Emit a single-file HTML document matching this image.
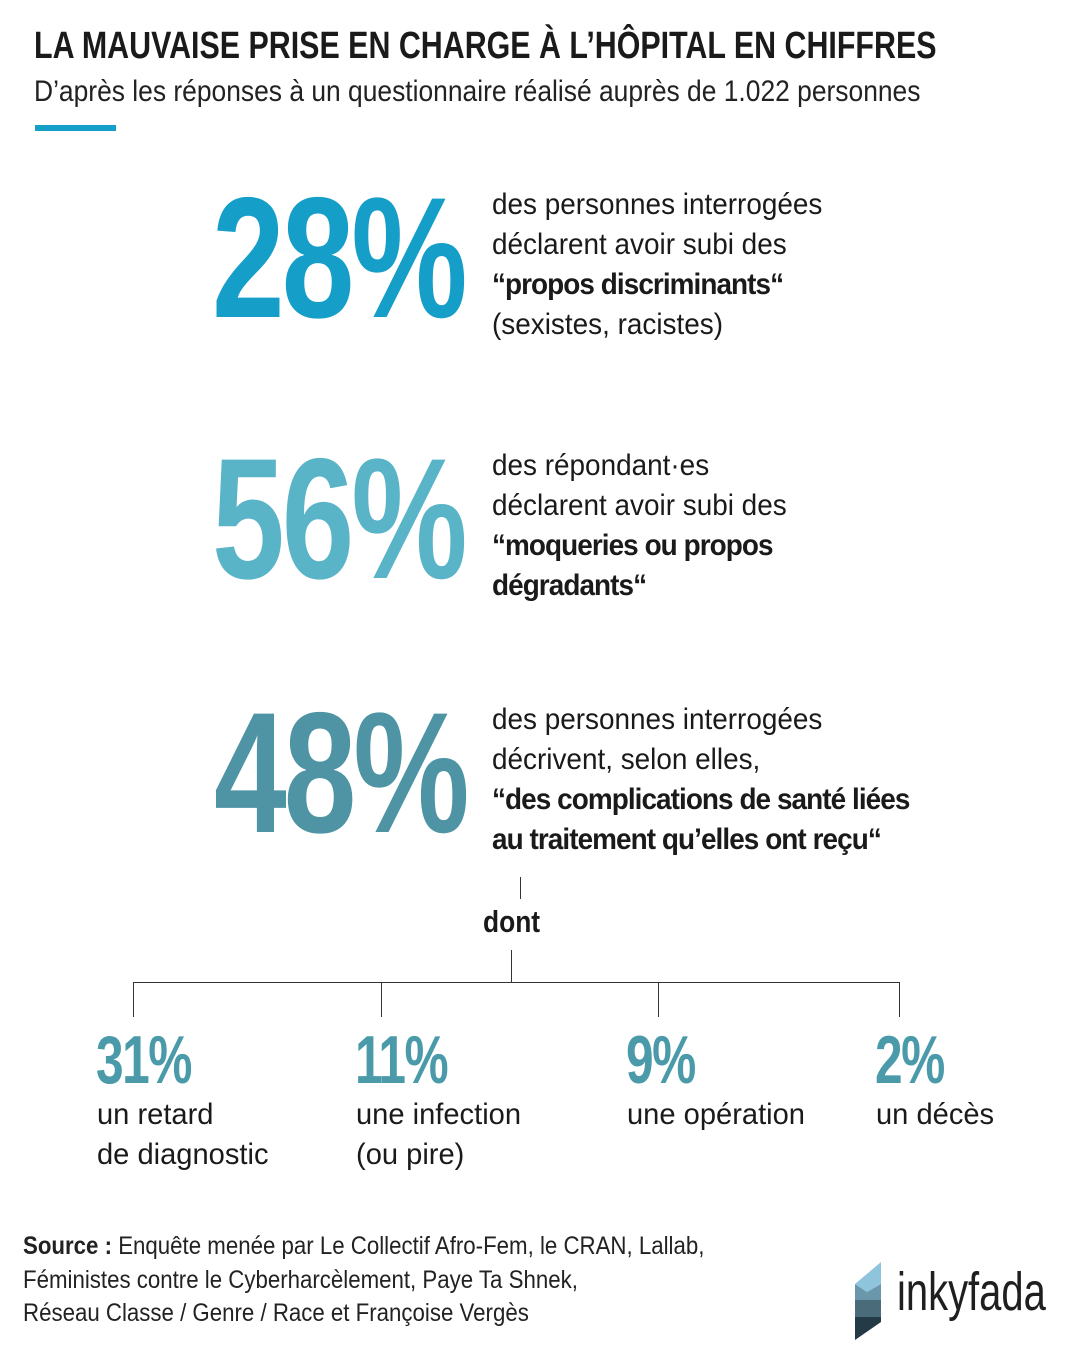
<!DOCTYPE html>
<html><head><meta charset="utf-8"><style>
body{margin:0;width:1080px;height:1360px;background:#fff;position:relative;overflow:hidden;font-family:"Liberation Sans",sans-serif;color:#1a1a1a}
.a{position:absolute;white-space:nowrap;transform-origin:0 0}
.big{font-weight:bold;font-size:172px;line-height:1;letter-spacing:-4px;transform:scaleX(0.76)}
.t{font-size:30px;line-height:40px;transform:scaleX(0.93)}
.b{font-weight:bold;letter-spacing:-1px}
.p{font-weight:bold;font-size:68px;color:#4a9aaa;line-height:1;letter-spacing:-2px;transform:scaleX(0.73)}
.s{font-size:30px;line-height:40px;transform:scaleX(0.97)}
.l{position:absolute;background:#333}
</style></head><body>
<div class="a" style="left:34px;top:24px;font-size:38px;line-height:44px;font-weight:bold;transform:scaleX(0.8)">LA MAUVAISE PRISE EN CHARGE À L’HÔPITAL EN CHIFFRES</div>
<div class="a" style="left:34px;top:74px;font-size:30px;line-height:36px;color:#222;transform:scaleX(0.88)">D’après les réponses à un questionnaire réalisé auprès de 1.022 personnes</div>
<div class="a" style="left:35px;top:125px;width:81px;height:6px;background:#149ec8"></div>

<div class="a big" style="left:212px;top:172px;color:#149ec8">28%</div>
<div class="a t" style="left:492px;top:185px">des personnes interrogées<br>déclarent avoir subi des<br><span class="b">“propos discriminants“</span><br>(sexistes, racistes)</div>

<div class="a big" style="left:212px;top:433px;color:#5ab4c8">56%</div>
<div class="a t" style="left:492px;top:446px">des répondant·es<br>déclarent avoir subi des<br><span class="b">“moqueries ou propos<br>dégradants“</span></div>

<div class="a big" style="left:214px;top:687px;color:#4e94a4">48%</div>
<div class="a t" style="left:492px;top:700px">des personnes interrogées<br>décrivent, selon elles,<br><span class="b">“des complications de santé liées<br>au traitement qu’elles ont reçu“</span></div>

<div class="l" style="left:520px;top:877px;width:1px;height:22px"></div>
<div class="a" style="left:483px;top:902px;font-size:31px;line-height:40px;font-weight:bold;transform:scaleX(0.85)">dont</div>
<div class="l" style="left:511px;top:950px;width:1px;height:32px"></div>
<div class="l" style="left:133px;top:982px;width:767px;height:1px"></div>
<div class="l" style="left:133px;top:982px;width:1px;height:35px"></div>
<div class="l" style="left:381px;top:982px;width:1px;height:35px"></div>
<div class="l" style="left:658px;top:982px;width:1px;height:35px"></div>
<div class="l" style="left:899px;top:982px;width:1px;height:35px"></div>

<div class="a p" style="left:96px;top:1026px">31%</div>
<div class="a s" style="left:97px;top:1095px">un retard<br>de diagnostic</div>
<div class="a p" style="left:355px;top:1026px">11%</div>
<div class="a s" style="left:356px;top:1095px">une infection<br>(ou pire)</div>
<div class="a p" style="left:626px;top:1026px">9%</div>
<div class="a s" style="left:627px;top:1095px">une opération</div>
<div class="a p" style="left:875px;top:1026px">2%</div>
<div class="a s" style="left:876px;top:1095px">un décès</div>

<div class="a" style="left:23px;top:1230px;font-size:25px;line-height:33.5px;color:#222;transform:scaleX(0.89)"><span style="font-weight:bold">Source :</span> Enquête menée par Le Collectif Afro-Fem, le CRAN, Lallab,<br>Féministes contre le Cyberharcèlement, Paye Ta Shnek,<br>Réseau Classe / Genre / Race et Françoise Vergès</div>

<svg class="a" style="left:853px;top:1262px" width="30" height="80" viewBox="0 0 30 80">
<polygon points="28,0 28,22 14,30 2,22" fill="#8ec4dc"/>
<polygon points="2,22 14,30 28,22 28,38 2,38" fill="#6a98aa"/>
<polygon points="2,38 28,38 28,55 2,55" fill="#4a6c7a"/>
<polygon points="2,55 28,55 28,60 2,78" fill="#243a46"/>
</svg>
<div class="a" style="left:897px;top:1260px;font-size:54px;line-height:64px;color:#1f1f1f;transform:scaleX(0.74)">inkyfada</div>
</body></html>
